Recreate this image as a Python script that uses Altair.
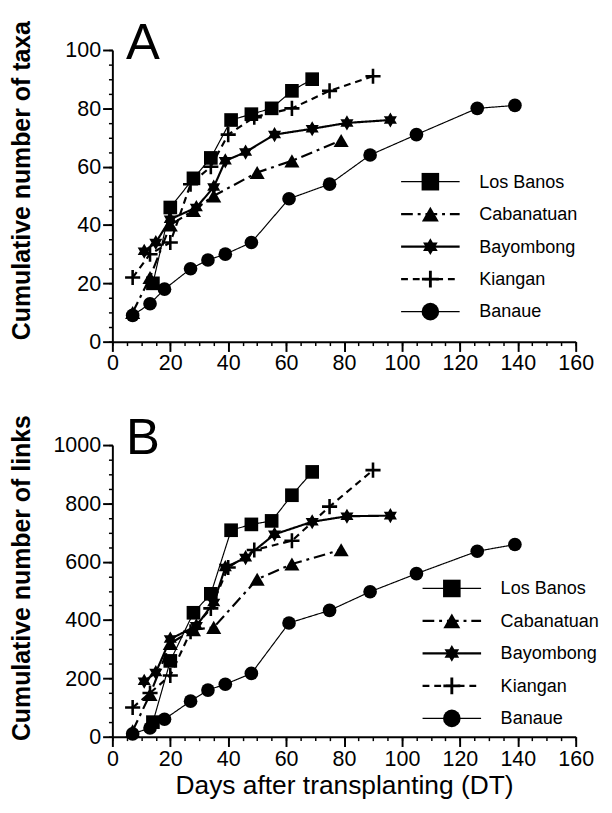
import altair as alt
import pandas as pd

FONT = "Liberation Sans, Arial, Helvetica, sans-serif"

SITES = ["Los Banos", "Cabanatuan", "Bayombong", "Kiangan", "Banaue"]

LOS_BANOS_DAYS = [14, 20, 28, 34, 41, 48, 55, 62, 69]
LOS_BANOS_TAXA = [20, 46, 56, 63, 76, 78, 80, 86, 90]
LOS_BANOS_LINKS = [50, 260, 425, 490, 708, 728, 740, 828, 908]

CABANATUAN_DAYS = [7, 13, 20, 28, 35, 50, 62, 79]
CABANATUAN_TAXA = [10, 22, 40, 45, 50, 58, 62, 69]
CABANATUAN_LINKS = [20, 145, 320, 367, 375, 540, 592, 641]

BAYOMBONG_DAYS = [11, 15, 20, 29, 35, 39, 46, 56, 69, 81, 96]
BAYOMBONG_TAXA = [31, 34, 42, 46, 53, 62, 65, 71, 73, 75, 76]
BAYOMBONG_LINKS = [190, 220, 335, 380, 460, 580, 614, 694, 737, 756, 758]

KIANGAN_DAYS = [7, 13, 20, 27, 34, 40, 49, 62, 75, 90]
KIANGAN_TAXA = [22, 30, 34, 54, 60, 71, 77, 80, 86, 91]
KIANGAN_LINKS = [100, 150, 210, 360, 440, 580, 640, 672, 789, 914]

BANAUE_DAYS = [7, 13, 18, 27, 33, 39, 48, 61, 75, 89, 105, 126, 139]
BANAUE_TAXA = [9, 13, 18, 25, 28, 30, 34, 49, 54, 64, 71, 80, 81]
BANAUE_LINKS = [10, 30, 60, 122, 160, 180, 217, 390, 433, 497, 559, 636, 659]

SERIES = {
    "Los Banos": (LOS_BANOS_DAYS, LOS_BANOS_TAXA, LOS_BANOS_LINKS),
    "Cabanatuan": (CABANATUAN_DAYS, CABANATUAN_TAXA, CABANATUAN_LINKS),
    "Bayombong": (BAYOMBONG_DAYS, BAYOMBONG_TAXA, BAYOMBONG_LINKS),
    "Kiangan": (KIANGAN_DAYS, KIANGAN_TAXA, KIANGAN_LINKS),
    "Banaue": (BANAUE_DAYS, BANAUE_TAXA, BANAUE_LINKS),
}

rows = []
for site, (days, taxa, links) in SERIES.items():
    for d, t, l in zip(days, taxa, links):
        rows.append({"site": site, "day": d, "taxa": t, "links": l})
df = pd.DataFrame(rows)

HEX = "M0,-1L0.866,0.5L-0.866,0.5Z M0,1L-0.866,-0.5L0.866,-0.5Z"
PLUS = ("M-0.17,-1L0.17,-1L0.17,-0.17L1,-0.17L1,0.17L0.17,0.17L0.17,1"
        "L-0.17,1L-0.17,0.17L-1,0.17L-1,-0.17L-0.17,-0.17Z")

STYLE = {
    "Los Banos": dict(w=1.2, dash=[1, 0], shape="square", size=196, lsize=324),
    "Cabanatuan": dict(w=2.2, dash=[12, 5, 3, 5], shape="triangle-up", size=240, lsize=300),
    "Bayombong": dict(w=2.2, dash=[1, 0], shape=HEX, size=240, lsize=300),
    "Kiangan": dict(w=2.2, dash=[7, 5], shape=PLUS, size=240, lsize=300),
    "Banaue": dict(w=1.2, dash=[1, 0], shape="circle", size=196, lsize=324),
}

W, H = 475, 299


def panel(field, ymax, ystep, yminor, ytitle, letter, leg_x, leg_y0, title_y, x_title):
    xs = alt.Scale(domain=[0, 160], nice=False, zero=False)
    ys = alt.Scale(domain=[0, ymax], nice=False)
    xaxis = alt.Axis(values=list(range(0, 161, 20)), tickSize=10, tickWidth=2,
                     domainWidth=2, labelFontSize=22, labelPadding=2, format="d",
                     labelFlush=False, labelOverlap=False, titleFontSize=27,
                     titleFontWeight="normal", titlePadding=4,
                     title=x_title)
    yaxis = alt.Axis(values=list(range(0, ymax + 1, ystep)), tickSize=10, tickWidth=2,
                     domainWidth=2, labelFontSize=22, labelPadding=2, format="d",
                     labelFlush=False, labelOverlap=False, titleFontSize=25.5,
                     titleFontWeight="bold", titleAngle=270, titleAlign="left",
                     titleBaseline="bottom", titleX=-80, titleY=title_y,
                     title=ytitle)
    layers = []
    for site in SITES:
        st = STYLE[site]
        d = df[df.site == site]
        enc = dict(x=alt.X("day:Q", scale=xs, axis=xaxis),
                   y=alt.Y(f"{field}:Q", scale=ys, axis=yaxis))
        layers.append(alt.Chart(d).mark_line(color="black", strokeWidth=st["w"],
                                             strokeDash=st["dash"]).encode(**enc))
        layers.append(alt.Chart(d).mark_point(shape=st["shape"], size=st["size"],
                                              filled=True, color="black",
                                              opacity=1).encode(**enc))
    # legend
    for i, site in enumerate(SITES):
        st = STYLE[site]
        ly = leg_y0 + i * 33.3
        one = alt.Chart(pd.DataFrame({"site": [site]}))
        layers.append(one.mark_rule(color="black", strokeWidth=st["w"],
                                    strokeDash=st["dash"]).encode(
            x=alt.value(leg_x), x2=alt.value(leg_x + 60), y=alt.value(ly)))
        layers.append(one.mark_point(shape=st["shape"], size=st["lsize"], filled=True,
                                     color="black", opacity=1).encode(
            x=alt.value(leg_x + 30), y=alt.value(ly)))
        layers.append(one.mark_text(align="left", baseline="middle", fontSize=18.5,
                                    font=FONT, color="black").encode(
            x=alt.value(leg_x + 80), y=alt.value(ly), text="site:N"))
    layers.append(alt.Chart(pd.DataFrame({"t": [letter]})).mark_text(
        align="left", baseline="alphabetic", fontSize=52, font=FONT, color="black"
    ).encode(x=alt.value(14), y=alt.value(9), text="t:N"))
    main = alt.layer(*layers)
    minor = alt.Chart(df).mark_point(opacity=0).encode(
        x=alt.X("day:Q", scale=xs, axis=alt.Axis(
            orient="bottom", values=list(range(0, 161, 5)), labels=False, domain=False,
            tickSize=4, tickWidth=1.5, title=None)),
        y=alt.Y(f"{field}:Q", scale=ys, axis=alt.Axis(
            orient="left", values=list(range(0, ymax + 1, yminor)), labels=False,
            domain=False, tickSize=4, tickWidth=1.5, title=None)),
    )
    return alt.layer(main, minor).resolve_axis(x="independent", y="independent").properties(
        width=W, height=H)


top = panel("taxa", 100, 20, 5, "Cumulative number of taxa", "A", 296, 135, 297, None)
bottom = panel("links", 1000, 200, 50, "Cumulative number of links", "B", 318, 147, 303,
               "Days after transplanting (DT)")

chart = alt.vconcat(top, bottom, spacing=40).properties(
    padding={"top": 0, "left": 1, "right": 5, "bottom": 0}
).configure_axis(
    domainColor="black", tickColor="black", labelColor="black", titleColor="black",
    grid=False, labelFont=FONT, titleFont=FONT
).configure_view(stroke=None)

chart.save("out.html", embed_options={"renderer": "svg", "actions": False})
